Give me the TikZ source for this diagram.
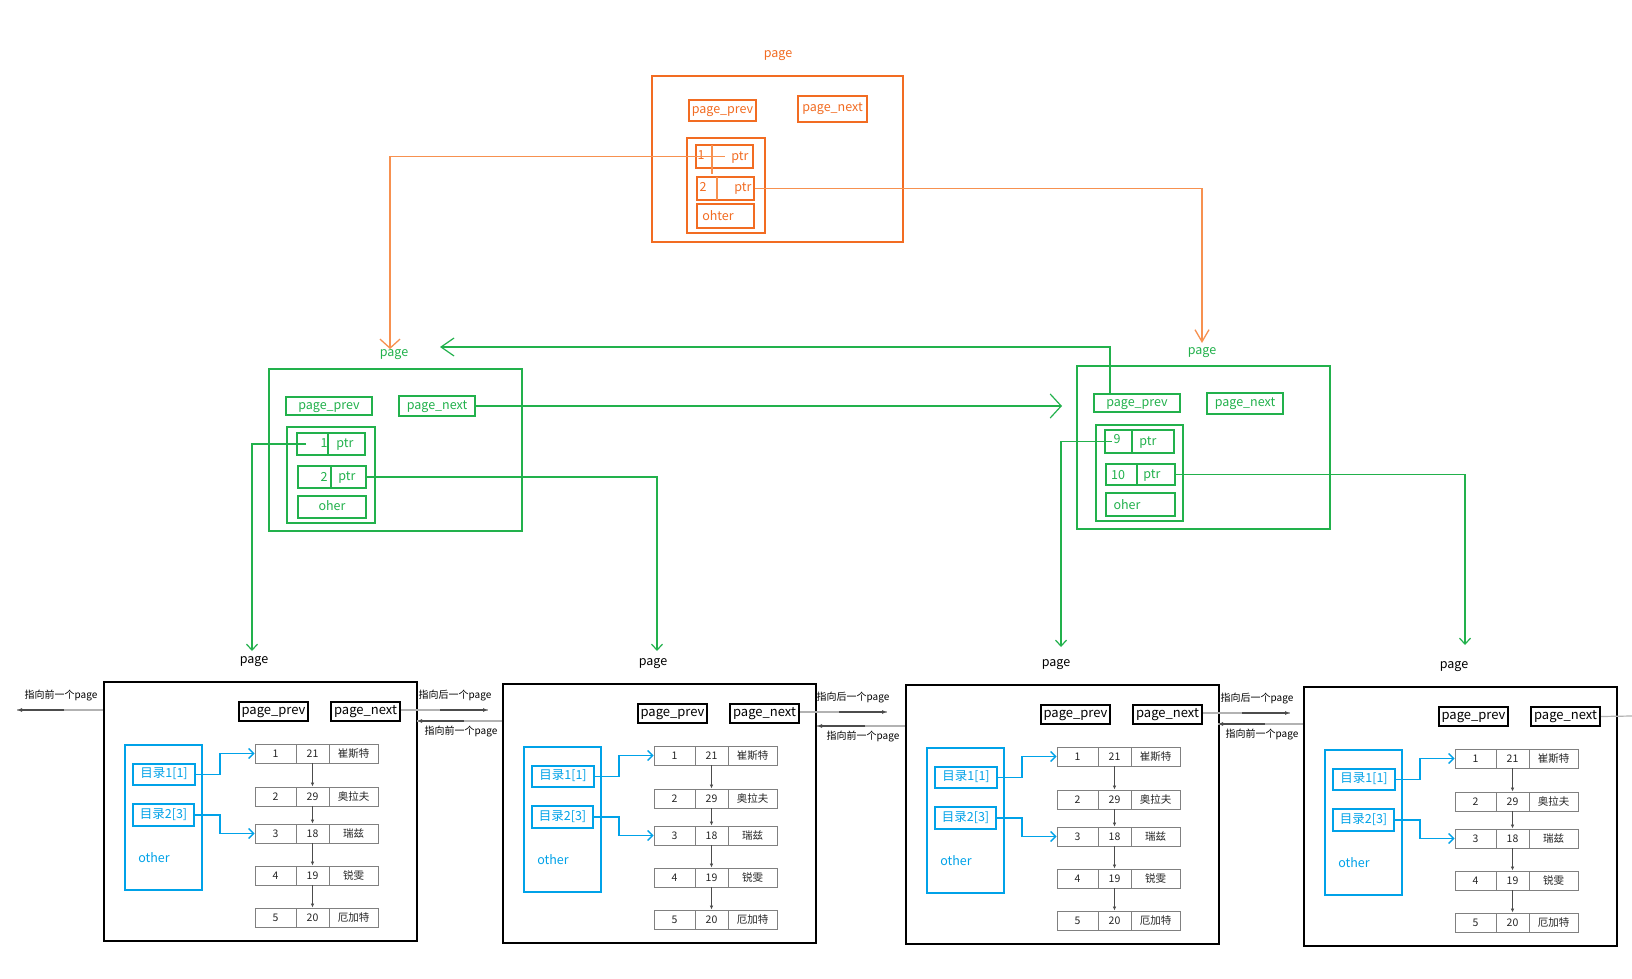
\documentclass[tikz,border=0pt]{standalone}
\usepackage{fontspec}
\setmainfont{Noto Sans CJK SC}
\usetikzlibrary{arrows.meta,calc}
\definecolor{orC}{RGB}{242,108,34}
\definecolor{orL}{RGB}{247,145,80}
\definecolor{grC}{RGB}{34,177,76}
\definecolor{blC}{RGB}{0,162,232}

\tikzset{
 fs/.style={font=\fontsize{#1}{#1}\selectfont},
 obox/.style={draw=orC, line width=1.8pt, text=orC, fs=12.5, text height=9pt, text depth=3pt},
 otxt/.style={text=orC, fs=12.5, inner sep=0pt},
 odiv/.style={draw=orL, line width=1.5pt},
 ocon/.style={draw=orL, line width=1.3pt},
 gbox/.style={draw=grC, line width=1.8pt, text=grC, fs=12.5, text height=9pt, text depth=3pt},
 gtxt/.style={text=grC, fs=12.5, inner sep=0pt},
 gdiv/.style={draw=grC, line width=1.5pt},
 gcon/.style={draw=grC, line width=1.2pt},
 kbox/.style={draw=black, line width=1.8pt},
 kin/.style={draw=black, line width=2pt, fs=13, text height=9.5pt, text depth=3pt},
 plab/.style={fs=12.5, inner sep=1pt},
 bbox/.style={draw=blC, line width=1.8pt},
 bin/.style={draw=blC, line width=2pt, text=blC, fs=12.5, text height=9pt, text depth=3pt},
 btxt/.style={text=blC, fs=12.5, inner sep=0pt},
 cell/.style={draw=black!50, line width=0.9pt, fs=10.5, text=black!85},
 darr/.style={draw=black!70, line width=1pt, -{Latex[length=4pt,width=3.5pt]}},
 bcon/.style={draw=blC, line width=1.3pt, -{Straight Barb[length=5pt,width=10pt]}},
 glab/.style={fs=10, inner sep=0pt},
 gfaint/.style={draw=black!30, line width=1.2pt},
 garr/.style={draw=black!70, line width=1.3pt, -{Latex[length=5pt,width=4pt]}},
}

% box from corner coordinates: style, name, x1, y1, x2, y2, text
\newcommand\rbox[7]{%
 \pgfmathsetmacro\bxcx{(#3+#5)/2}\pgfmathsetmacro\bxcy{(#4+#6)/2}%
 \pgfmathsetmacro\bxw{(#5)-(#3)}\pgfmathsetmacro\bxh{(#6)-(#4)}%
 \node[#1, minimum width=\bxw pt, minimum height=\bxh pt, inner sep=0pt] (#2) at (\bxcx,\bxcy) {#7};}

% bottom page: dx, dy, id
\newcommand\bpage[3]{%
 \node[plab] (#3lab) at (#1+254,#2+662) {page};
 \rbox{kbox}{#3box}{#1+104}{#2+682}{#1+417}{#2+941}{}
 \rbox{kin}{#3prev}{#1+239}{#2+702}{#1+308}{#2+721}{page\_prev}
 \rbox{kin}{#3next}{#1+331}{#2+702}{#1+400}{#2+721}{page\_next}
 \rbox{bbox}{#3oth}{#1+125}{#2+745}{#1+202}{#2+890}{}
 \rbox{bin}{#3d1}{#1+133}{#2+764}{#1+195}{#2+785}{目录1[1]}
 \rbox{bin}{#3d2}{#1+133}{#2+804}{#1+194}{#2+826}{目录2[3]}
 \node[btxt] (#3ot) at (#1+154,#2+858) {other};
 \foreach \ty/\na/\nb/\nc in {744/1/21/崔斯特,787/2/29/奥拉夫,824/3/18/瑞兹,866/4/19/锐雯,908/5/20/厄加特}{
  \rbox{cell}{#3a\na}{#1+255}{#2+\ty}{#1+296}{#2+\ty+19}{\na}
  \rbox{cell}{#3b\na}{#1+296}{#2+\ty}{#1+329}{#2+\ty+19}{\nb}
  \rbox{cell}{#3c\na}{#1+329}{#2+\ty}{#1+378}{#2+\ty+19}{\nc}
 }
 \foreach \p/\q in {1/2,2/3,3/4,4/5}{\draw[darr] (#3b\p.south) -- (#3b\q.north);}
 \draw[bcon] (#3d1.east) -- ++(24,0) |- (#3a1.west);
 \draw[bcon] (#3d2.east) -- ++(25,0) |- (#3a3.west);
}

\begin{document}
\begin{tikzpicture}[x=1pt,y=-1pt]
\useasboundingbox[fill=white] (0,0) rectangle (1632,979);

% ---------- top orange page ----------
\node[otxt] (otitle) at (778,56) {page};
\rbox{obox}{oout}{652}{76}{903}{242}{}
\rbox{obox}{oprev}{689}{100}{756}{121}{page\_prev}
\rbox{obox}{onext}{798}{96}{867}{122}{page\_next}
\rbox{obox}{oin}{687}{138}{765}{233}{}
\rbox{obox}{o1}{696}{145}{753}{168}{}
\rbox{obox}{o2}{697}{177}{754}{200}{}
\rbox{obox}{o3}{697}{204}{754}{228}{}
\draw[odiv] (712,145) -- (712,174);
\draw[odiv] (717,177) -- (717,200);
\node[otxt] (o1n) at (701,155) {1};
\node[otxt] (o1p) at (740,158) {ptr};
\node[otxt] (o2n) at (703,187) {2};
\node[otxt] (o2p) at (743,189) {ptr};
\node[otxt] (o3t) at (718,216) {ohter};

% ---------- green left page ----------
\node[gtxt] (gLlab) at (394,355) {page};
\rbox{gbox}{gLout}{269}{369}{522}{531}{}
\rbox{gbox}{gLprev}{286}{397}{372}{415}{page\_prev}
\rbox{gbox}{gLnext}{399}{396}{475}{416}{page\_next}
\rbox{gbox}{gLin}{287}{427}{375}{523}{}
\rbox{gbox}{gL1}{297}{433}{365}{455}{}
\rbox{gbox}{gL2}{298}{466}{366}{488}{}
\rbox{gbox}{gL3}{298}{496}{366}{518}{oher}
\draw[gdiv] (328,433) -- (328,455);
\draw[gdiv] (331,466) -- (331,488);
\node[gtxt] (gL1n) at (324,443) {1};
\node[gtxt] (gL1p) at (345,445) {ptr};
\node[gtxt] (gL2n) at (324,477) {2};
\node[gtxt] (gL2p) at (347,478) {ptr};

% ---------- green right page ----------
\node[gtxt] (gRlab) at (1202,353) {page};
\rbox{gbox}{gRout}{1077}{366}{1330}{529}{}
\rbox{gbox}{gRprev}{1094}{394}{1180}{412}{page\_prev}
\rbox{gbox}{gRnext}{1207}{393}{1283}{414}{page\_next}
\rbox{gbox}{gRin}{1096}{425}{1183}{521}{}
\rbox{gbox}{gR1}{1105}{430}{1174}{453}{}
\rbox{gbox}{gR2}{1106}{464}{1175}{485}{}
\rbox{gbox}{gR3}{1106}{493}{1175}{516}{}
\draw[gdiv] (1132,430) -- (1132,453);
\draw[gdiv] (1137,464) -- (1137,485);
\node[gtxt] (gR1n) at (1117,439) {9};
\node[gtxt] (gR1p) at (1148,443) {ptr};
\node[gtxt] (gR2n) at (1118,475) {10};
\node[gtxt] (gR2p) at (1152,476) {ptr};
\node[gtxt] (gR3t) at (1127,505) {oher};

% ---------- bottom pages ----------
\bpage{0}{0}{b1}
\bpage{399}{2}{b2}
\bpage{802}{3}{b3}
\bpage{1200}{5}{b4}

% ---------- orange connectors ----------
\coordinate (oL) at (390,349);
\coordinate (oR) at (1202,343);
\draw[ocon, -{Straight Barb[length=9pt,width=20pt]}] (o1.center) -| (oL);
\draw[ocon, -{Straight Barb[length=12pt,width=14pt]}] (o2.east) -| (oR);

% ---------- green connectors ----------
\coordinate (gA) at (1062,405);
\coordinate (gB) at (440,347);
\draw[gcon, -{Straight Barb[length=11pt,width=24pt]}] (gLnext.east) -- (gLnext.east -| gA);
\draw[gcon, -{Straight Barb[length=13pt,width=18pt]}] ([xshift=-27pt]gRprev.north) |- (gB);
\coordinate (t1) at (252,651);
\coordinate (t2) at (657,651);
\coordinate (t3) at (1061,647);
\coordinate (t4) at (1465,645);
\draw[gcon, -{Straight Barb[length=6pt,width=11pt]}] ([xshift=10pt]gL1.west) -| (t1);
\draw[gcon, -{Straight Barb[length=6pt,width=11pt]}] (gL2.east) -| (t2);
\draw[gcon, -{Straight Barb[length=6pt,width=11pt]}] ([xshift=8pt]gR1.west) -| (t3);
\draw[gcon, -{Straight Barb[length=6pt,width=11pt]}] (gR2.east) -| (t4);

% ---------- gray arrows between bottom pages ----------
\coordinate (e0) at (17,710); \coordinate (s0) at (b1box.west |- e0);
\draw[gfaint] (s0) -- (e0); \draw[garr] ($(s0)!0.45!(e0)$) -- (e0);
\node[glab] (l0) at (61,696) {指向前一个page};

\coordinate (e12) at (488,710); \coordinate (s12) at (b1next.east |- e12);
\draw[gfaint] (s12) -- (e12); \draw[garr] ($(s12)!0.45!(e12)$) -- (e12);
\coordinate (e21) at (417,721); \coordinate (s21) at (b2box.west |- e21);
\draw[gfaint] (s21) -- (e21); \draw[garr] ($(s21)!0.45!(e21)$) -- (e21);
\node[glab] (l12) at (455,696) {指向后一个page};
\node[glab] (l21) at (461,732) {指向前一个page};

\coordinate (e23) at (887,712); \coordinate (s23) at (b2next.east |- e23);
\draw[gfaint] (s23) -- (e23); \draw[garr] ($(s23)!0.45!(e23)$) -- (e23);
\coordinate (e32) at (817,726); \coordinate (s32) at (b3box.west |- e32);
\draw[gfaint] (s32) -- (e32); \draw[garr] ($(s32)!0.45!(e32)$) -- (e32);
\node[glab] (l23) at (853,698) {指向后一个page};
\node[glab] (l32) at (863,737) {指向前一个page};

\coordinate (e34) at (1290,713); \coordinate (s34) at (b3next.east |- e34);
\draw[gfaint] (s34) -- (e34); \draw[garr] ($(s34)!0.45!(e34)$) -- (e34);
\coordinate (e43) at (1218,724); \coordinate (s43) at (b4box.west |- e43);
\draw[gfaint] (s43) -- (e43); \draw[garr] ($(s43)!0.45!(e43)$) -- (e43);
\node[glab] (l34) at (1257,699) {指向后一个page};
\node[glab] (l43) at (1262,735) {指向前一个page};

\coordinate (e4) at (1632,716);
\draw[gfaint] (b4next.east) -- (e4);
\end{tikzpicture}
\end{document}
